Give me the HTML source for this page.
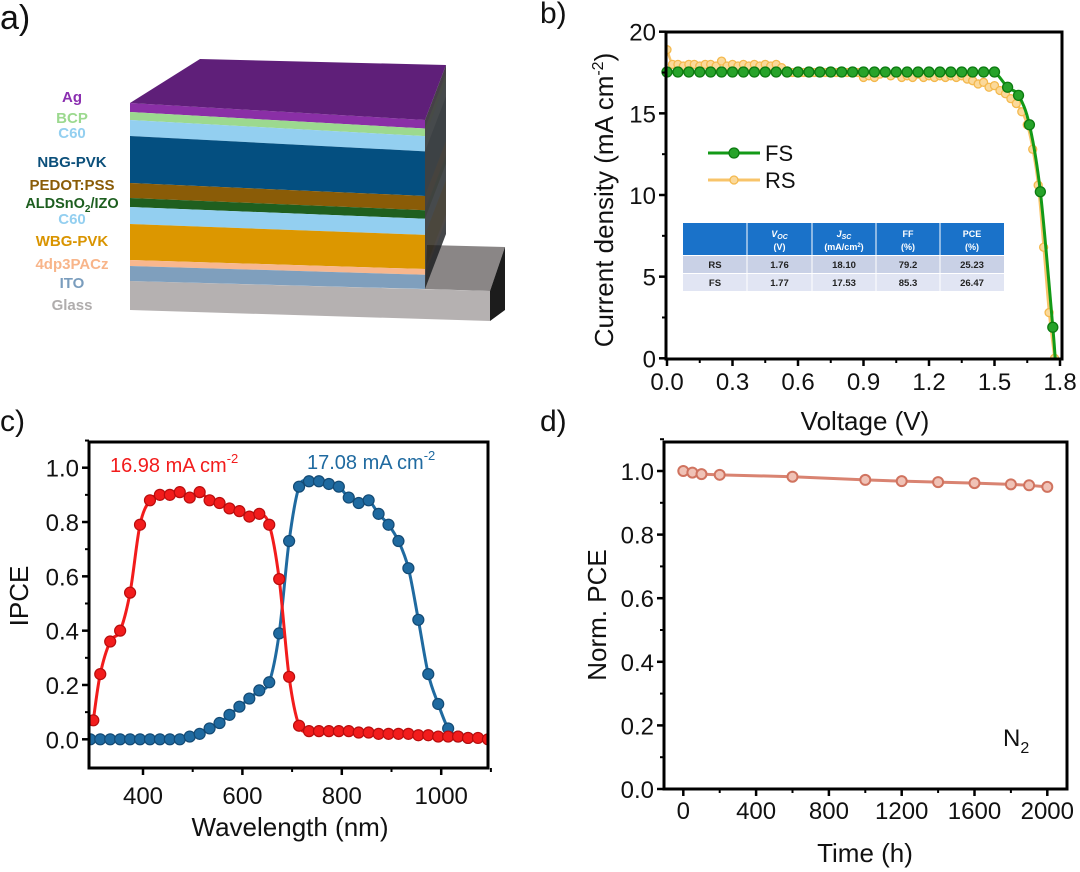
<!DOCTYPE html>
<html><head><meta charset="utf-8"><style>
html,body{margin:0;padding:0;background:#fff;}
svg{display:block;font-family:"Liberation Sans",Arial,sans-serif;}
</style></head><body>
<svg id="fig" width="1080" height="872" viewBox="0 0 1080 872" xmlns="http://www.w3.org/2000/svg">
<g id="pa"></g>
<g id="pb"></g>
<g id="pc"></g>
<g id="pd"></g>
</svg>
<script>
// ---------- Panel b data ----------
const fsV = [0,0.05,0.1,0.15,0.2,0.25,0.3,0.35,0.4,0.45,0.5,0.55,0.6,0.65,0.7,0.75,0.8,0.85,0.9,0.95,1.0,1.05,1.1,1.15,1.2,1.25,1.3,1.35,1.4,1.45,1.5,1.56,1.61,1.66,1.71,1.767,1.78];
const fsJ = [17.53,17.53,17.53,17.53,17.53,17.53,17.53,17.53,17.53,17.53,17.53,17.53,17.53,17.53,17.53,17.53,17.53,17.53,17.53,17.53,17.53,17.53,17.53,17.53,17.53,17.53,17.53,17.53,17.53,17.53,17.53,16.6,16.1,14.3,10.2,1.9,-0.5];
const rsJ = [18.9,18.0,18.0,17.9,18.0,18.0,17.9,18.0,18.0,17.9,18.2,17.9,18.0,17.9,18.0,17.9,18.0,17.9,18.0,17.9,18.0,17.8,17.6,
 17.5,17.5,17.5,17.5,17.5,17.5,17.5,17.5,17.5,17.5,17.5,17.5,17.5,
 17.2,17.3,17.2,17.4,17.5,17.3,17.5,17.2,17.3,17.2,17.4,17.2,17.3,17.2,17.3,17.2,17.3,17.2,17.3,17.1,17.0,16.8,16.9,16.6,16.7,16.4,16.2,15.9,15.6,15.1,14.3,12.8,10.6,6.8,2.8,0];
const rsStep = 0.025;
const bXTicks = [0,0.3,0.6,0.9,1.2,1.5,1.8];
const bXLabels = ["0.0","0.3","0.6","0.9","1.2","1.5","1.8"];
const bYTicks = [0,5,10,15,20];
// ---------- Panel c data ----------
const redWl = [300,314,334,354,374,394,414,434,454,474,494,514,534,554,574,594,614,634,654,674,694,714,734,754,774,794,814,834,854,874,894,914,934,954,974,994,1014,1034,1054,1074,1094];
const redIPCE = [0.07,0.24,0.36,0.40,0.54,0.79,0.88,0.90,0.90,0.91,0.89,0.91,0.88,0.87,0.85,0.84,0.82,0.83,0.79,0.59,0.23,0.05,0.03,0.03,0.03,0.03,0.03,0.025,0.025,0.02,0.02,0.02,0.02,0.015,0.015,0.01,0.01,0.01,0.005,0.005,0.0];
const blueWl = [294,314,334,354,374,394,414,434,454,474,494,514,534,554,574,594,614,634,654,674,694,714,734,754,774,794,814,834,854,874,894,914,934,954,974,994,1014,1034,1054];
const blueIPCE = [0,0,0,0,0,0,0,0,0,0,0.01,0.02,0.04,0.06,0.09,0.12,0.15,0.18,0.21,0.39,0.73,0.93,0.95,0.95,0.94,0.93,0.89,0.87,0.88,0.83,0.79,0.73,0.63,0.44,0.24,0.13,0.04,0.01,0.005];
const cXTicks = [400,600,800,1000];
const cYTicks = [0,0.2,0.4,0.6,0.8,1.0];
// ---------- Panel d data ----------
const dTime = [0,50,100,200,600,1000,1200,1400,1600,1800,1900,2000];
const dPCE = [1.0,0.995,0.99,0.988,0.982,0.972,0.968,0.965,0.962,0.958,0.955,0.95];
const dXTicks = [0,400,800,1200,1600,2000];
const dYTicks = [0,0.2,0.4,0.6,0.8,1.0];
// ---------- Panel a data ----------
const layerNames = ["Ag","BCP","C60","NBG-PVK","PEDOT:PSS","ALD","C60","WBG-PVK","4dp3PACz","ITO"];
const layerColors = ["#8a2fa6","#9cd98f","#93cff0","#044f80","#8a5c07","#1f5f1f","#93cff0","#dc9700","#f8b78e","#7f9fbd"];
const layerTops = [103,112,120,136,183,198,207,224,260,266,281];

const NS="http://www.w3.org/2000/svg";
function mk(parent,tag,attrs,text){const e=document.createElementNS(NS,tag);for(const k in attrs)e.setAttribute(k,attrs[k]);if(text!==undefined)e.textContent=text;parent.appendChild(e);return e;}
function smooth(pts){let d="M"+pts[0][0]+","+pts[0][1];for(let i=0;i<pts.length-1;i++){const p0=pts[i-1]||pts[i],p1=pts[i],p2=pts[i+1],p3=pts[i+2]||p2;const c1x=p1[0]+(p2[0]-p0[0])/6,c1y=p1[1]+(p2[1]-p0[1])/6,c2x=p2[0]-(p3[0]-p1[0])/6,c2y=p2[1]-(p3[1]-p1[1])/6;d+=` C${c1x},${c1y} ${c2x},${c2y} ${p2[0]},${p2[1]}`;}return d;}

// ===== Panel a =====
const pa=document.getElementById('pa');
let t=mk(pa,'text',{x:0,y:29,'font-size':34,fill:'#111'},'a)');


const gl=mk(pa,'polygon',{points:"427,245 505,247 490,291 425,289",fill:'#8a8686'});


const gs=mk(pa,'polygon',{points:"490,291 505,247 505,310 490,321",fill:'#1c1c1c'});


const gf=mk(pa,'polygon',{points:"130,281 490,291 490,321 130,310",fill:'#b5b1b1'});


function dr(y){return 17-(y-103)/(281-103)*9;}
for(let i=0;i<layerNames.length;i++){
  const yl=layerTops[i],yb=layerTops[i+1];
  const p=mk(pa,'polygon',{points:`130,${yl} 425,${yl+dr(yl)} 425,${yb+dr(yb)} 130,${yb}`,fill:layerColors[i]});
  
  
  const s=mk(pa,'polygon',{points:`425,${yl+dr(yl)} 446,${yl+dr(yl)-55} 446,${yb+dr(yb)-55} 425,${yb+dr(yb)}`,fill:layerColors[i],'fill-opacity':0.25});
  
  
}
const stackSide=mk(pa,'polygon',{points:`425,120 446,65 446,234 425,289`,fill:'#111','fill-opacity':0.75});


const agTop=mk(pa,'polygon',{points:"130,103 200,59 446,65 425,120",fill:'#5f1f79'});


const labs=[["Ag",97,"#8b2fb0"],["BCP",118,"#9cd98f"],["C60",133,"#93cff0"],["NBG-PVK",162,"#0b4f7a"],["PEDOT:PSS",185,"#8a5c07"],["ALD",203,"#1d5e1f"],["C60",219,"#93cff0"],["WBG-PVK",241,"#d99400"],["4dp3PACz",264,"#f8b58a"],["ITO",283,"#7a9dbd"],["Glass",305,"#b0adad"]];
labs.forEach(l=>{
  let e;
  if(l[0]==="ALD"){
    e=mk(pa,'text',{x:72,y:l[1]+5,'font-size':14.5,'font-weight':'bold',fill:l[2],'text-anchor':'middle'});
    e.innerHTML='ALDSnO<tspan font-size="10" dy="4">2</tspan><tspan dy="-4">/IZO</tspan>';
  } else {
    e=mk(pa,'text',{x:72,y:l[1]+5,'font-size':15,'font-weight':'bold',fill:l[2],'text-anchor':'middle'},l[0]);
  }
  
  
});

// ===== Panel b =====
const pb=document.getElementById('pb');
const bL=666,bR=1062,bT=32,bB=359;
const bx=v=>bL+(v-0)/(1.8)*(1060-667)+1, by=j=>358.3-j*16.33;
t=mk(pb,'text',{x:540,y:23,'font-size':30,fill:'#111'},'b)');


let clip=mk(pb,'clipPath',{id:'cb'});mk(clip,'rect',{x:bL,y:bT,width:bR-bL,height:bB-bT});
const rsPts=rsJ.map((j,i)=>[bx(i*rsStep),by(j)]);
let ln=mk(pb,'path',{d:smooth(rsPts),fill:'none',stroke:'#f8c46a','stroke-width':2.5,'clip-path':'url(#cb)'});


rsPts.forEach(p=>{const c=mk(pb,'circle',{cx:p[0],cy:p[1],r:4,fill:'#fbd99a',stroke:'#f4b94e','stroke-width':1.3,'clip-path':'url(#cb)'});

});
const fsPts=fsV.map((v,i)=>[bx(v),by(fsJ[i])]);
ln=mk(pb,'path',{d:smooth(fsPts),fill:'none',stroke:'#139a17','stroke-width':3,'clip-path':'url(#cb)'});


fsPts.forEach((p,i)=>{if(i===fsPts.length-1)return;const c=mk(pb,'circle',{cx:p[0],cy:p[1],r:5,fill:'#27a32a',stroke:'#0c7a10','stroke-width':1.3});

});
let ax=mk(pb,'rect',{x:bL,y:bT,width:bR-bL,height:bB-bT,fill:'none',stroke:'#000','stroke-width':3});


bXTicks.forEach((v,i)=>{mk(pb,'line',{x1:bx(v),x2:bx(v),y1:bB,y2:bB+7,stroke:'#000','stroke-width':2.5});
 if(i<6)mk(pb,'line',{x1:bx(v+0.15),x2:bx(v+0.15),y1:bB,y2:bB+4,stroke:'#000','stroke-width':2});
 const e=mk(pb,'text',{x:bx(v),y:bB+31,'font-size':24,'text-anchor':'middle',fill:'#111'},bXLabels[i]);
 
 });
bYTicks.forEach(v=>{mk(pb,'line',{x1:bL-7,x2:bL,y1:by(v),y2:by(v),stroke:'#000','stroke-width':2.5});
 if(v<20)mk(pb,'line',{x1:bL-4,x2:bL,y1:by(v+2.5),y2:by(v+2.5),stroke:'#000','stroke-width':2});
 const e=mk(pb,'text',{x:bL-10,y:by(v)+9,'font-size':24,'text-anchor':'end',fill:'#111'},String(v));
 
 });
t=mk(pb,'text',{x:865,y:430,'font-size':26,'text-anchor':'middle',fill:'#111'},'Voltage (V)');


t=mk(pb,'text',{x:0,y:0,'font-size':26,'text-anchor':'middle',fill:'#111',transform:'translate(613,200) rotate(-90)'});
t.innerHTML='Current density (mA cm<tspan font-size="16" dy="-10">-2</tspan><tspan dy="10">)</tspan>';


let lg=mk(pb,'g',{});


mk(lg,'line',{x1:708,x2:760,y1:153,y2:153,stroke:'#139a17','stroke-width':3});
mk(lg,'circle',{cx:734,cy:153,r:5,fill:'#27a32a',stroke:'#0c7a10','stroke-width':1.3});
mk(lg,'text',{x:765,y:161,'font-size':22,fill:'#111'},'FS');
mk(lg,'line',{x1:708,x2:760,y1:180,y2:180,stroke:'#f8c46a','stroke-width':3});
mk(lg,'circle',{cx:734,cy:180,r:4,fill:'#fbd99a',stroke:'#f4b94e','stroke-width':1.3});
mk(lg,'text',{x:765,y:188,'font-size':22,fill:'#111'},'RS');
const tb=mk(pb,'g',{});


const cols=[683,747,812,876,940,1004];
mk(tb,'rect',{x:683,y:223,width:321,height:32,fill:'#1a72c9'});
mk(tb,'rect',{x:683,y:256,width:321,height:17,fill:'#c9d1e6'});
mk(tb,'rect',{x:683,y:274,width:321,height:17,fill:'#e1e5f3'});
cols.slice(1,5).forEach(x=>mk(tb,'line',{x1:x,x2:x,y1:223,y2:291,stroke:'#fff','stroke-width':1}));
const hdr=[['V<tspan font-size="7" dy="2">OC</tspan>','(V)'],['J<tspan font-size="7" dy="2">SC</tspan>','(mA/cm<tspan font-size="6" dy="-3">2</tspan><tspan dy="3">)</tspan>'],['FF','(%)'],['PCE','(%)']];
hdr.forEach((h,i)=>{const cx=(cols[i+1]+cols[i+2])/2;
 let e=mk(tb,'text',{x:cx,y:237,'font-size':9,'font-weight':'bold',fill:'#fff','text-anchor':'middle','font-style':i<2?'italic':'normal'});e.innerHTML=h[0];
 e=mk(tb,'text',{x:cx,y:250,'font-size':9,'font-weight':'bold',fill:'#fff','text-anchor':'middle'});e.innerHTML=h[1];});
const rows=[["RS","1.76","18.10","79.2","25.23"],["FS","1.77","17.53","85.3","26.47"]];
rows.forEach((r,ri)=>r.forEach((c,ci)=>mk(tb,'text',{x:(cols[ci]+cols[ci+1])/2,y:268+ri*18,'font-size':9.5,'font-weight':'bold',fill:'#222','text-anchor':'middle'},c)));

// ===== Panel c =====
const pc=document.getElementById('pc');
const cL=89,cR=488,cT=442,cB=768;
const cx_=w=>143+(w-400)*0.497, cy_=v=>739.3-v*271.6;
t=mk(pc,'text',{x:0,y:431,'font-size':30,fill:'#111'},'c)');


clip=mk(pc,'clipPath',{id:'cc'});mk(clip,'rect',{x:cL,y:cT,width:cR-cL,height:cB-cT});
function series(g,wl,vals,col,dark,nm){
  const pts=wl.map((w,i)=>[cx_(w),cy_(vals[i])]);
  const p=mk(g,'path',{d:smooth(pts),fill:'none',stroke:col,'stroke-width':3,'clip-path':'url(#cc)'});
  
  
  pts.forEach(q=>{const c=mk(g,'circle',{cx:q[0],cy:q[1],r:5.5,fill:col,stroke:dark,'stroke-width':1.2,'clip-path':'url(#cc)'});
  
  });
}
series(pc,blueWl,blueIPCE,'#1f6aa0','#134a74','nbg-ipce');
series(pc,redWl,redIPCE,'#f21c1c','#b80d0d','wbg-ipce');
ax=mk(pc,'rect',{x:cL,y:cT,width:cR-cL,height:cB-cT,fill:'none',stroke:'#000','stroke-width':3});


cXTicks.forEach(v=>{mk(pc,'line',{x1:cx_(v),x2:cx_(v),y1:cB,y2:cB+7,stroke:'#000','stroke-width':2.5});
 mk(pc,'line',{x1:cx_(v+100),x2:cx_(v+100),y1:cB,y2:cB+4,stroke:'#000','stroke-width':2});
 const e=mk(pc,'text',{x:cx_(v),y:cB+36,'font-size':24,'text-anchor':'middle',fill:'#111'},String(v));
 
 });
cYTicks.forEach(v=>{mk(pc,'line',{x1:cL-7,x2:cL,y1:cy_(v),y2:cy_(v),stroke:'#000','stroke-width':2.5});
 mk(pc,'line',{x1:cL-4,x2:cL,y1:cy_(v+0.1),y2:cy_(v+0.1),stroke:'#000','stroke-width':2});
 const e=mk(pc,'text',{x:cL-10,y:cy_(v)+9,'font-size':24,'text-anchor':'end',fill:'#111'},v.toFixed(1));
 
 });
t=mk(pc,'text',{x:290,y:836,'font-size':26,'text-anchor':'middle',fill:'#111'},'Wavelength (nm)');


t=mk(pc,'text',{x:0,y:0,'font-size':26,'text-anchor':'middle',fill:'#111',transform:'translate(28,596) rotate(-90)'},'IPCE');


t=mk(pc,'text',{x:110,y:472,'font-size':20,fill:'#f21c1c'});
t.innerHTML='16.98 mA cm<tspan font-size="13" dy="-9">-2</tspan>';


t=mk(pc,'text',{x:307,y:469,'font-size':20,fill:'#1f6aa0'});
t.innerHTML='17.08 mA cm<tspan font-size="13" dy="-9">-2</tspan>';



// ===== Panel d =====
const pd=document.getElementById('pd');
const dL=664,dR=1067,dT=442,dB=789;
const dx=v=>683.3+v*0.182, dy=v=>789-v*318;
t=mk(pd,'text',{x:540,y:431,'font-size':30,fill:'#111'},'d)');


const dPts=dTime.map((x,i)=>[dx(x),dy(dPCE[i])]);
ln=mk(pd,'polyline',{points:dPts.map(p=>p.join(',')).join(' '),fill:'none',stroke:'#d98371','stroke-width':3});


dPts.forEach(p=>{const c=mk(pd,'circle',{cx:p[0],cy:p[1],r:5,fill:'#f0c2b6',stroke:'#d0735f','stroke-width':2});

});
ax=mk(pd,'rect',{x:dL,y:dT,width:dR-dL,height:dB-dT,fill:'none',stroke:'#000','stroke-width':3});


dXTicks.forEach(v=>{mk(pd,'line',{x1:dx(v),x2:dx(v),y1:dB,y2:dB+7,stroke:'#000','stroke-width':2.5});
 if(v<2000)mk(pd,'line',{x1:dx(v+200),x2:dx(v+200),y1:dB,y2:dB+4,stroke:'#000','stroke-width':2});
 const e=mk(pd,'text',{x:dx(v),y:dB+30,'font-size':24,'text-anchor':'middle',fill:'#111'},String(v));
 
 });
dYTicks.forEach(v=>{mk(pd,'line',{x1:dL-7,x2:dL,y1:dy(v),y2:dy(v),stroke:'#000','stroke-width':2.5});
 mk(pd,'line',{x1:dL-4,x2:dL,y1:dy(v+0.1),y2:dy(v+0.1),stroke:'#000','stroke-width':2});
 const e=mk(pd,'text',{x:dL-10,y:dy(v)+9,'font-size':24,'text-anchor':'end',fill:'#111'},v.toFixed(1));
 
 });
t=mk(pd,'text',{x:865,y:862,'font-size':26,'text-anchor':'middle',fill:'#111'},'Time (h)');


t=mk(pd,'text',{x:0,y:0,'font-size':26,'text-anchor':'middle',fill:'#111',transform:'translate(606,615) rotate(-90)'},'Norm. PCE');


t=mk(pd,'text',{x:1003,y:746,'font-size':24,fill:'#111'});
t.innerHTML='N<tspan font-size="16" dy="7">2</tspan>';


</script>
</body></html>
